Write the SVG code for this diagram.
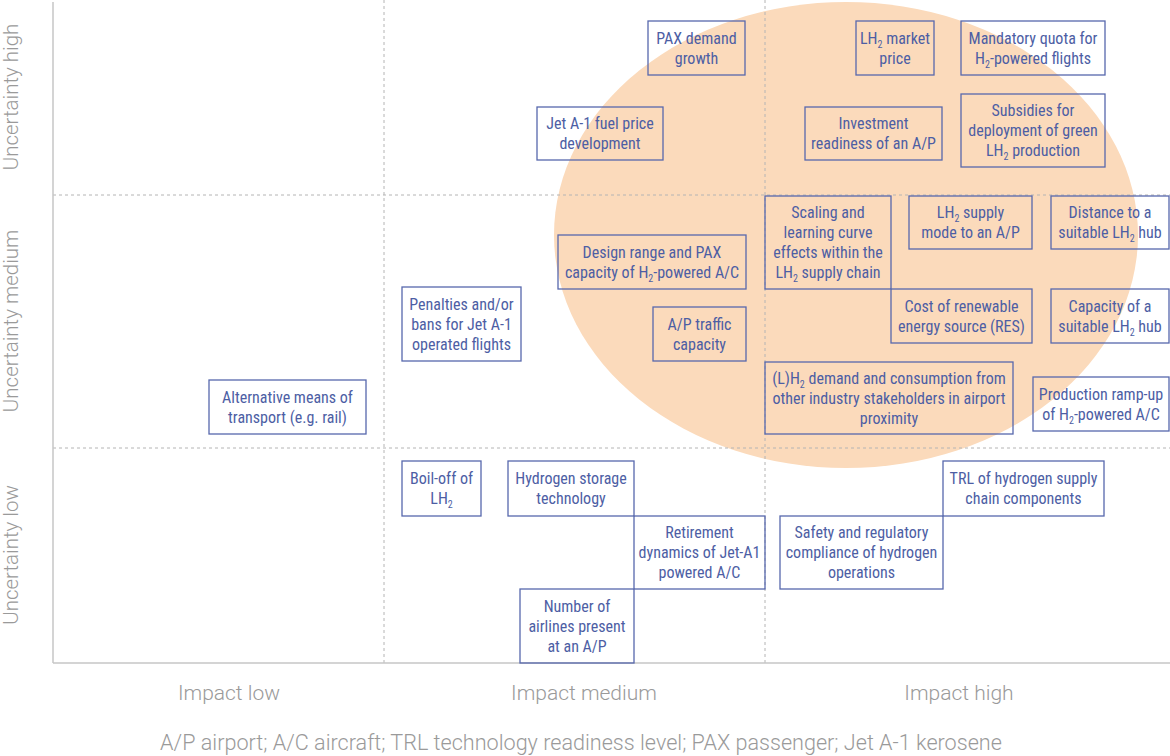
<svg xmlns="http://www.w3.org/2000/svg" width="1170" height="756" viewBox="0 0 1170 756">
<style>
.bg{fill:#ffffff}
.blob{fill:#FBDABB}
.axis{stroke:#c6c6c6;stroke-width:1.5;fill:none}
.grid{stroke:#b4b4b4;stroke-width:1;stroke-dasharray:3 3;fill:none}
.box rect{fill:none;stroke:#5768ad;stroke-width:1.3}
.box text{font-family:"Liberation Sans Narrow","Roboto Condensed","Liberation Sans",sans-serif;font-size:16px;fill:#4d5ea4;text-anchor:middle}
.sub{font-size:10px}
.lbl{font-family:Roboto,"Liberation Sans",sans-serif;font-weight:300;font-size:21px;fill:#9a9a9a;text-anchor:middle}
.vlbl{font-family:Roboto,"Liberation Sans",sans-serif;font-weight:300;font-size:20.5px;fill:#9a9a9a;text-anchor:middle}
.foot{font-family:Roboto,"Liberation Sans",sans-serif;font-weight:300;font-size:21.6px;fill:#9a9a9a;text-anchor:middle}
</style>
<rect class="bg" x="0" y="0" width="1170" height="756"/>
<ellipse class="blob" cx="846" cy="235" rx="292" ry="233"/>
<g id="grid">
<line class="grid" x1="384" y1="0" x2="384" y2="663"/>
<line class="grid" x1="765" y1="0" x2="765" y2="663"/>
<line class="grid" x1="53" y1="195" x2="1170" y2="195"/>
<line class="grid" x1="53" y1="448" x2="1170" y2="448"/>
<line class="axis" x1="53" y1="2" x2="53" y2="663"/>
<line class="axis" x1="53" y1="663" x2="1170" y2="663"/>
</g>
<g id="axis-labels">
<text class="vlbl" transform="translate(17.5,97) rotate(-90)">Uncertainty high</text>
<text class="vlbl" transform="translate(17.5,321) rotate(-90)">Uncertainty medium</text>
<text class="vlbl" transform="translate(17.5,555) rotate(-90)">Uncertainty low</text>
<text class="lbl" x="229" y="700">Impact low</text>
<text class="lbl" x="584" y="700">Impact medium</text>
<text class="lbl" x="959" y="700">Impact high</text>
<text class="foot" x="581" y="750">A/P airport; A/C aircraft; TRL technology readiness level; PAX passenger; Jet A-1 kerosene</text>
</g>
<g id="connectors"></g>
<g id="n-pax" class="box"><rect x="648" y="21" width="97" height="54"/><text><tspan x="696.5" y="43.5">PAX demand</tspan><tspan x="696.5" y="63.5">growth</tspan></text></g>
<g id="n-lh2price" class="box"><rect x="856" y="21" width="78" height="54"/><text><tspan x="895" y="43.5">LH<tspan class="sub" dy="4">2</tspan><tspan dy="-4"> market</tspan></tspan><tspan x="895" y="63.5">price</tspan></text></g>
<g id="n-quota" class="box"><rect x="961" y="21" width="144" height="54"/><text><tspan x="1033" y="43.5">Mandatory quota for</tspan><tspan x="1033" y="63.5">H<tspan class="sub" dy="4">2</tspan><tspan dy="-4">-powered flights</tspan></tspan></text></g>
<g id="n-jetfuel" class="box"><rect x="537" y="107" width="126" height="53"/><text><tspan x="600" y="129">Jet A-1 fuel price</tspan><tspan x="600" y="149">development</tspan></text></g>
<g id="n-invest" class="box"><rect x="805" y="107" width="137" height="53"/><text><tspan x="873.5" y="129">Investment</tspan><tspan x="873.5" y="149">readiness of an A/P</tspan></text></g>
<g id="n-subsidies" class="box"><rect x="961" y="94" width="144" height="73"/><text><tspan x="1033" y="116">Subsidies for</tspan><tspan x="1033" y="136">deployment of green</tspan><tspan x="1033" y="156">LH<tspan class="sub" dy="4">2</tspan><tspan dy="-4"> production</tspan></tspan></text></g>
<g id="n-scaling" class="box"><rect x="765" y="196" width="126" height="93"/><text><tspan x="828" y="218">Scaling and</tspan><tspan x="828" y="238">learning curve</tspan><tspan x="828" y="258">effects within the</tspan><tspan x="828" y="278">LH<tspan class="sub" dy="4">2</tspan><tspan dy="-4"> supply chain</tspan></tspan></text></g>
<g id="n-supplymode" class="box"><rect x="909" y="196" width="123" height="53"/><text><tspan x="970.5" y="218">LH<tspan class="sub" dy="4">2</tspan><tspan dy="-4"> supply</tspan></tspan><tspan x="970.5" y="238">mode to an A/P</tspan></text></g>
<g id="n-distance" class="box"><rect x="1051" y="196" width="118" height="53"/><text><tspan x="1110" y="218">Distance to a</tspan><tspan x="1110" y="238">suitable LH<tspan class="sub" dy="4">2</tspan><tspan dy="-4"> hub</tspan></tspan></text></g>
<g id="n-design" class="box"><rect x="558" y="235" width="188" height="54"/><text><tspan x="652" y="257.5">Design range and PAX</tspan><tspan x="652" y="277.5">capacity of H<tspan class="sub" dy="4">2</tspan><tspan dy="-4">-powered A/C</tspan></tspan></text></g>
<g id="n-res" class="box"><rect x="891" y="289" width="141" height="54"/><text><tspan x="961.5" y="311.5">Cost of renewable</tspan><tspan x="961.5" y="331.5">energy source (RES)</tspan></text></g>
<g id="n-hubcap" class="box"><rect x="1051" y="289" width="118" height="54"/><text><tspan x="1110" y="311.5">Capacity of a</tspan><tspan x="1110" y="331.5">suitable LH<tspan class="sub" dy="4">2</tspan><tspan dy="-4"> hub</tspan></tspan></text></g>
<g id="n-penalties" class="box"><rect x="402" y="287" width="119" height="74"/><text><tspan x="461.5" y="309.5">Penalties and/or</tspan><tspan x="461.5" y="329.5">bans for Jet A-1</tspan><tspan x="461.5" y="349.5">operated flights</tspan></text></g>
<g id="n-traffic" class="box"><rect x="653" y="307" width="93" height="54"/><text><tspan x="699.5" y="329.5">A/P traffic</tspan><tspan x="699.5" y="349.5">capacity</tspan></text></g>
<g id="n-demand" class="box"><rect x="765" y="362" width="248" height="72"/><text><tspan x="889" y="383.5">(L)H<tspan class="sub" dy="4">2</tspan><tspan dy="-4"> demand and consumption from</tspan></tspan><tspan x="889" y="403.5">other industry stakeholders in airport</tspan><tspan x="889" y="423.5">proximity</tspan></text></g>
<g id="n-rampup" class="box"><rect x="1033" y="377" width="136" height="54"/><text><tspan x="1101" y="399.5">Production ramp-up</tspan><tspan x="1101" y="419.5">of H<tspan class="sub" dy="4">2</tspan><tspan dy="-4">-powered A/C</tspan></tspan></text></g>
<g id="n-altmeans" class="box"><rect x="209" y="380" width="157" height="54"/><text><tspan x="287.5" y="402.5">Alternative means of</tspan><tspan x="287.5" y="422.5">transport (e.g. rail)</tspan></text></g>
<g id="n-boiloff" class="box"><rect x="402" y="461" width="79" height="55"/><text><tspan x="441.5" y="484">Boil-off of</tspan><tspan x="441.5" y="504">LH<tspan class="sub" dy="4">2</tspan></tspan></text></g>
<g id="n-storage" class="box"><rect x="508" y="461" width="126" height="55"/><text><tspan x="571" y="484">Hydrogen storage</tspan><tspan x="571" y="504">technology</tspan></text></g>
<g id="n-retire" class="box"><rect x="634" y="516" width="131" height="73"/><text><tspan x="699.5" y="538">Retirement</tspan><tspan x="699.5" y="558">dynamics of Jet-A1</tspan><tspan x="699.5" y="578">powered A/C</tspan></text></g>
<g id="n-safety" class="box"><rect x="780" y="516" width="163" height="73"/><text><tspan x="861.5" y="538">Safety and regulatory</tspan><tspan x="861.5" y="558">compliance of hydrogen</tspan><tspan x="861.5" y="578">operations</tspan></text></g>
<g id="n-trl" class="box"><rect x="943" y="461" width="161" height="55"/><text><tspan x="1023.5" y="484">TRL of hydrogen supply</tspan><tspan x="1023.5" y="504">chain components</tspan></text></g>
<g id="n-airlines" class="box"><rect x="520" y="589" width="114" height="74"/><text><tspan x="577" y="611.5">Number of</tspan><tspan x="577" y="631.5">airlines present</tspan><tspan x="577" y="651.5">at an A/P</tspan></text></g>
</svg>
